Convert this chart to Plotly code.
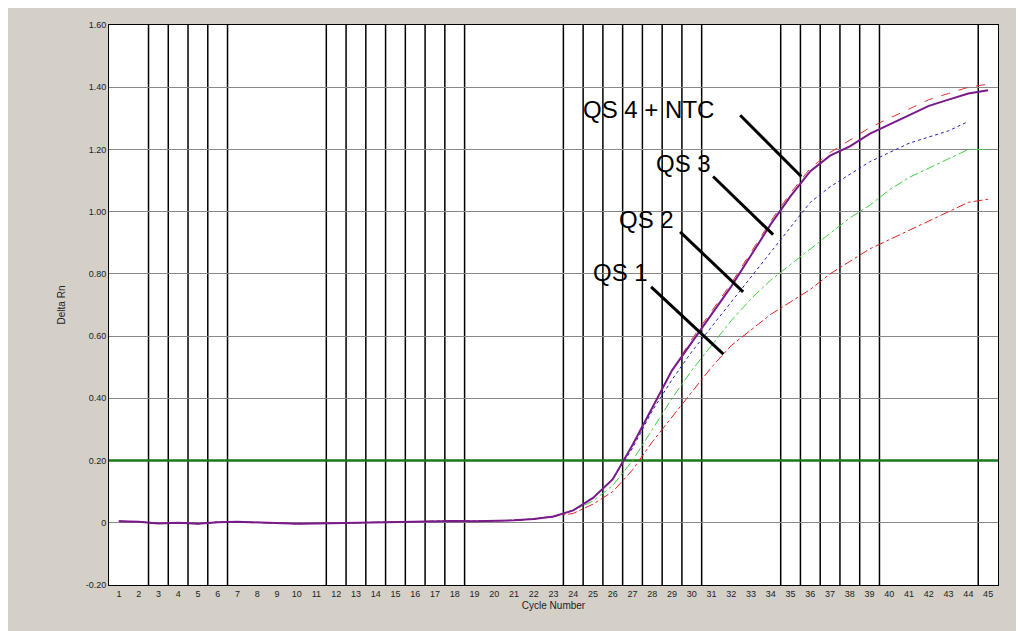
import plotly.graph_objects as go

cycles = list(range(1, 46))
flat = [0.005, 0.003, -0.002, 0.0, -0.003, 0.002, 0.003, 0.001, 0.0, -0.003,
        -0.002, -0.001, 0.002, 0.003, 0.004, 0.004, 0.005, 0.006, 0.005, 0.006,
        0.008, 0.012]
qs4 = flat + [0.02, 0.04, 0.08, 0.14, 0.25, 0.37, 0.49, 0.58, 0.67, 0.76, 0.86, 0.96,
              1.05, 1.13, 1.18, 1.21, 1.25, 1.28, 1.31, 1.34, 1.36, 1.38, 1.39]
ntc = flat + [0.02, 0.04, 0.08, 0.14, 0.25, 0.37, 0.49, 0.59, 0.68, 0.77, 0.87, 0.97,
              1.06, 1.14, 1.19, 1.23, 1.27, 1.30, 1.33, 1.36, 1.38, 1.40, 1.41]
qs3 = flat + [0.02, 0.04, 0.08, 0.14, 0.24, 0.36, 0.46, 0.55, 0.63, 0.71, 0.79, 0.87,
              0.95, 1.03, 1.08, 1.12, 1.16, 1.19, 1.22, 1.24, 1.26, 1.29]
qs2 = flat + [0.02, 0.04, 0.07, 0.12, 0.20, 0.30, 0.40, 0.49, 0.57, 0.65, 0.72, 0.78,
              0.83, 0.88, 0.93, 0.98, 1.02, 1.07, 1.11, 1.14, 1.17, 1.20, 1.20]
qs1 = flat + [0.02, 0.03, 0.06, 0.10, 0.17, 0.26, 0.34, 0.42, 0.50, 0.57, 0.62, 0.67,
              0.71, 0.75, 0.80, 0.84, 0.88, 0.91, 0.94, 0.97, 1.00, 1.03, 1.04]
threshold = 0.2
y_ticks = [-0.2, 0, 0.2, 0.4, 0.6, 0.8, 1.0, 1.2, 1.4, 1.6]
y_tick_text = ["-0.20", "0", "0.20", "0.40", "0.60", "0.80", "1.00", "1.20", "1.40", "1.60"]
v_lines = [2.5, 3.5, 4.5, 5.5, 6.5, 11.5, 12.5, 13.5, 14.5, 15.5, 16.5, 17.5, 18.5,
           23.5, 24.5, 25.5, 26.5, 27.5, 28.5, 29.5, 30.5, 34.5, 35.5, 36.5, 37.5,
           38.5, 39.5, 44.5]
labels = ["QS 4 + NTC", "QS 3", "QS 2", "QS 1"]
label_pos = [(27.8, 1.33), (29.56, 1.155), (27.7, 0.974), (26.4, 0.803)]
pointers = [(32.45, 1.31, 35.54, 1.113), (31.08, 1.113, 34.12, 0.926),
            (29.41, 0.935, 32.6, 0.742), (27.94, 0.758, 31.6, 0.542)]

fig = go.Figure()
fig.add_trace(go.Scatter(x=[0.5, 45.5], y=[threshold, threshold], mode="lines",
                         line=dict(color="#1a7a1a", width=2.5)))
fig.add_trace(go.Scatter(x=cycles, y=qs1, mode="lines", line=dict(color="#e02020", width=1, dash="dashdot")))
fig.add_trace(go.Scatter(x=cycles, y=qs2, mode="lines", line=dict(color="#40d040", width=1, dash="dashdot")))
fig.add_trace(go.Scatter(x=cycles[:44], y=qs3, mode="lines", line=dict(color="#2020c0", width=1, dash="dot")))
fig.add_trace(go.Scatter(x=cycles, y=ntc, mode="lines", line=dict(color="#e03030", width=1, dash="dash")))
fig.add_trace(go.Scatter(x=cycles, y=qs4, mode="lines", line=dict(color="#7a1a8a", width=2)))

for v in v_lines:
    fig.add_shape(type="line", xref="x", yref="paper", x0=v, x1=v, y0=0, y1=1,
                  line=dict(color="black", width=1.5), layer="below")

for txt, (tx, ty), (x0, y0, x1, y1) in zip(labels, label_pos, pointers):
    fig.add_annotation(x=tx, y=ty, text=txt, showarrow=False,
                       font=dict(family="Liberation Sans, Arial", size=24, color="black"))
    fig.add_shape(type="line", xref="x", yref="y", x0=x0, y0=y0, x1=x1, y1=y1,
                  line=dict(color="black", width=3))

fig.update_layout(
    width=1024, height=631,
    margin=dict(l=101, r=34, t=17, b=54, autoexpand=False),
    paper_bgcolor="#d4d0c8", plot_bgcolor="white",
    showlegend=False,
    font=dict(family="Liberation Sans, Arial", size=9, color="#222"),
)
fig.update_xaxes(range=[0.5, 45.5], tickmode="array", tickvals=cycles, showgrid=False,
                 zeroline=False, showline=True, linecolor="black", mirror=True, automargin=False,
                 title=dict(text="Cycle Number", font=dict(size=10), standoff=4))
fig.update_yaxes(range=[-0.2, 1.6], tickmode="array", tickvals=y_ticks, ticktext=y_tick_text,
                 showgrid=True, gridcolor="#888", gridwidth=1, zeroline=False, automargin=False,
                 showline=True, linecolor="black", mirror=True,
                 title=dict(text="Delta Rn", font=dict(size=10), standoff=18))

fig.write_html("out.html")
